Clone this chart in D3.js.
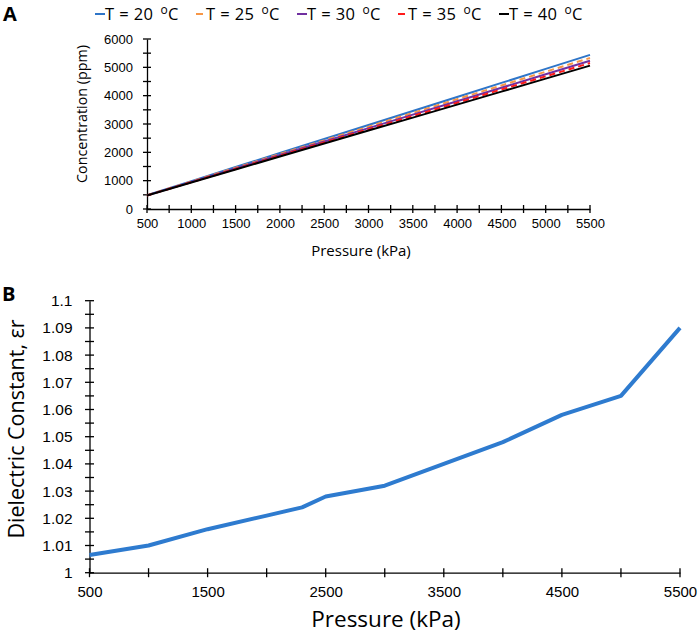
<!DOCTYPE html>
<html lang="en">
  <head>
    <meta charset="utf-8" />
    <title>Concentration and dielectric constant vs pressure</title>
    <script src="https://d3js.org/d3.v7.min.js"></script>
    <style>
      body {
        margin: 0;
        background: #fff;
      }
      svg {
        display: block;
        font-family: "Open Sans", sans-serif;
      }
      .axis path,
      .axis line {
        stroke: #000;
        stroke-width: 1.3;
      }
      .axis text {
        fill: #000;
      }
    </style>
  </head>

  <body>
    <svg id="chart"></svg>

    <script>
      // Panel A: concentration (ppm) vs pressure for each temperature
      const pressureA = [500, 1000, 1500, 2000, 2500, 3000, 3500, 4000, 4500, 5000, 5500];
      const temps = ["20", "25", "30", "35", "40"];
      const conc20 = [490, 985, 1480, 1975, 2470, 2965, 3460, 3955, 4450, 4945, 5440];
      const conc25 = [485, 970, 1454, 1939, 2423, 2908, 3392, 3877, 4361, 4846, 5330];
      const conc30 = [480, 955, 1430, 1905, 2380, 2855, 3330, 3805, 4280, 4755, 5230];
      const conc35 = [478, 945, 1412, 1880, 2347, 2814, 3281, 3748, 4216, 4683, 5150];
      const conc40 = [475, 934, 1392, 1851, 2309, 2768, 3226, 3685, 4143, 4602, 5060];
      const seriesColors = ["#2e75c8", "#f79646", "#7030a0", "#ff1a1a", "#000000"];
      const seriesDash = [null, "6,4", null, "6,4", null];

      // Panel B: dielectric constant vs pressure
      const pressureB = [500, 1000, 1500, 2000, 2300, 2500, 3000, 3500, 4000, 4500, 5000, 5500];
      const dielectric = [1.0065, 1.010, 1.016, 1.021, 1.024, 1.028, 1.032, 1.040, 1.048, 1.058, 1.065, 1.090];
      const xTickLabelsB = [500, 1500, 2500, 3500, 4500, 5500];

      const W = 699, H = 633;
      const svg = d3.select("#chart").attr("width", W).attr("height", H);
      const plain = d3.format("d");

      // draws ticks that cross the axis line, like the spreadsheet charts
      function crossTicks(g, orient, scale, values, len) {
        g.selectAll("line.tk")
          .data(values)
          .join("line")
          .attr("class", "tk")
          .attr("x1", (d) => (orient === "x" ? scale(d) : -len))
          .attr("x2", (d) => (orient === "x" ? scale(d) : len))
          .attr("y1", (d) => (orient === "x" ? -len : scale(d)))
          .attr("y2", (d) => (orient === "x" ? len : scale(d)))
          .attr("stroke", "#000")
          .attr("stroke-width", 1.3);
      }

      /////////////////////////
      // Panel A
      const xA = d3.scaleLinear().domain([500, 5500]).range([147, 590]);
      const yA = d3.scaleLinear().domain([0, 6000]).range([209, 39]);

      const gxA = svg.append("g").attr("class", "axis").attr("transform", `translate(0,${yA(0)})`);
      gxA.call(d3.axisBottom(xA).tickValues(d3.range(500, 5501, 500)).tickFormat(plain).tickSize(0).tickPadding(10))
        .call((g) => g.select(".domain").attr("stroke-width", 1.5))
        .selectAll("text").style("font-size", "13px");
      crossTicks(gxA, "x", xA, d3.range(500, 5501, 250), 4);

      const gyA = svg.append("g").attr("class", "axis").attr("transform", `translate(${xA(500)},0)`);
      gyA.call(d3.axisLeft(yA).tickValues(d3.range(0, 6001, 1000)).tickFormat(plain).tickSize(0).tickPadding(14))
        .call((g) => g.select(".domain").attr("stroke-width", 1.5))
        .selectAll("text").style("font-size", "13px");
      crossTicks(gyA, "y", yA, d3.range(0, 6001, 500), 4);

      const concSeries = [conc20, conc25, conc30, conc35, conc40];
      const lineA = d3.line().x((d, i) => xA(pressureA[i])).y((d) => yA(d));
      svg.append("g")
        .selectAll("path")
        .data(concSeries)
        .join("path")
        .attr("d", lineA)
        .attr("fill", "none")
        .attr("stroke", (d, i) => seriesColors[i])
        .attr("stroke-width", 2)
        .attr("stroke-dasharray", (d, i) => seriesDash[i]);

      svg.append("text")
        .attr("transform", `translate(87,114) rotate(-90)`)
        .attr("text-anchor", "middle")
        .style("font-size", "14.3px")
        .text("Concentration (ppm)");

      svg.append("text")
        .attr("x", 361)
        .attr("y", 256)
        .attr("text-anchor", "middle")
        .style("font-size", "15px")
        .text("Pressure (kPa)");

      // legend
      const legend = svg.append("g")
        .selectAll("g")
        .data(temps)
        .join("g")
        .attr("transform", (d, i) => `translate(${95 + i * 101},14)`);
      legend.append("line")
        .attr("x1", 0)
        .attr("x2", (d, i) => (seriesDash[i] ? 7 : 10))
        .attr("y1", 0)
        .attr("y2", 0)
        .attr("stroke", (d, i) => seriesColors[i])
        .attr("stroke-width", 2);
      const lt = legend.append("text").attr("x", 10).attr("y", 6).style("font-size", "16.5px").style("letter-spacing", "0.4px");
      lt.append("tspan").text((d) => `T = ${d}`);
      lt.append("tspan").attr("dx", 7).attr("dy", -6).style("font-size", "12px").text("o");
      lt.append("tspan").attr("dy", 6).text("C");

      svg.append("text").attr("x", 3).attr("y", 21).style("font-size", "20px").style("font-weight", "bold").text("A");

      /////////////////////////
      // Panel B
      const xB = d3.scaleLinear().domain([500, 5500]).range([89.5, 680]);
      const yB = d3.scaleLinear().domain([1, 1.1]).range([572.7, 300.7]);

      const gxB = svg.append("g").attr("class", "axis").attr("transform", `translate(0,${yB(1)})`);
      gxB.call(d3.axisBottom(xB).tickValues(xTickLabelsB).tickFormat(plain).tickSize(0).tickPadding(14))
        .call((g) => g.select(".domain").attr("stroke-width", 2))
        .selectAll("text").style("font-size", "15px");
      crossTicks(gxB, "x", xB, d3.range(500, 5501, 500), 4.5);

      const gyB = svg.append("g").attr("class", "axis").attr("transform", `translate(${xB(500)},0)`);
      gyB.call(d3.axisLeft(yB).tickValues(d3.range(0, 11).map((i) => 1 + i / 100))
          .tickFormat((d) => +d.toFixed(2) + "").tickSize(0).tickPadding(17))
        .call((g) => g.select(".domain").attr("stroke-width", 2))
        .selectAll("text").style("font-size", "15.5px");
      crossTicks(gyB, "y", yB, d3.range(0, 21).map((i) => 1 + i * 0.005), 4.5);

      const lineB = d3.line().x((d, i) => xB(pressureB[i])).y((d) => yB(d));
      svg.append("path")
        .datum(dielectric)
        .attr("d", lineB)
        .attr("fill", "none")
        .attr("stroke", "#2e7bcf")
        .attr("stroke-width", 4)
        .attr("stroke-linejoin", "round");

      svg.append("text")
        .attr("transform", `translate(24,429) rotate(-90)`)
        .attr("text-anchor", "middle")
        .style("font-size", "21.5px")
        .text("Dielectric Constant, εr");

      svg.append("text")
        .attr("x", 386)
        .attr("y", 627)
        .attr("text-anchor", "middle")
        .style("font-size", "22.5px")
        .text("Pressure (kPa)");

      svg.append("text").attr("x", 2).attr("y", 301).style("font-size", "20px").style("font-weight", "bold").text("B");
    </script>
  </body>
</html>
